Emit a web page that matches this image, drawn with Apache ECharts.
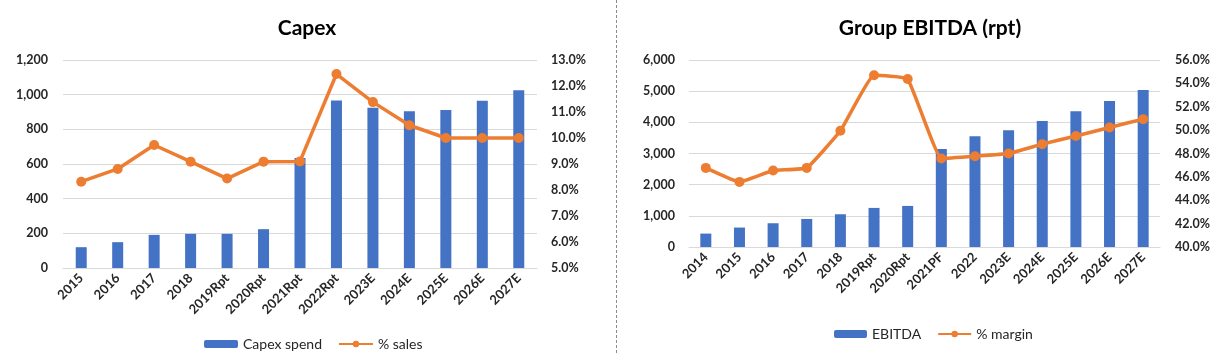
<!DOCTYPE html>
<html>
<head>
<meta charset="utf-8">
<script src="https://cdn.jsdelivr.net/npm/echarts@6/dist/echarts.min.js"></script>
<style>
  html, body { margin: 0; padding: 0; background: #fff; }
  #main { width: 1229px; height: 354px; }
</style>
</head>
<body>
<div id="main"></div>
<script>
const barColor = '#4472C4'
const lineColor = '#ED7D31'
const textColor = '#262626'
const gridColor = '#d9d9d9'
const font = 'Lato'

// Capex chart
const capexYears = ['2015', '2016', '2017', '2018', '2019Rpt', '2020Rpt', '2021Rpt', '2022Rpt', '2023E', '2024E', '2025E', '2026E', '2027E']
const capexSpend = [120, 149, 191, 197, 197, 224, 634, 967, 925, 904, 912, 965, 1025]
const capexSales = [8.32, 8.81, 9.73, 9.09, 8.44, 9.09, 9.1, 12.46, 11.38, 10.49, 10.0, 10.0, 10.0]

// EBITDA chart
const ebitdaYears = ['2014', '2015', '2016', '2017', '2018', '2019Rpt', '2020Rpt', '2021PF', '2022', '2023E', '2024E', '2025E', '2026E', '2027E']
const ebitdaValues = [430, 624, 762, 900, 1051, 1254, 1318, 3141, 3550, 3743, 4042, 4353, 4685, 5039]
const ebitdaMargin = [46.77, 45.57, 46.55, 46.77, 49.94, 54.69, 54.37, 47.58, 47.77, 48.0, 48.8, 49.5, 50.23, 50.94]

const fmtNum = v => v.toLocaleString('en-US')
const fmtPct = v => v.toFixed(1) + '%'

function catAxis (gridIndex, data) {
  return {
    type: 'category',
    gridIndex: gridIndex,
    data: data,
    axisTick: { show: false },
    axisLine: { show: true, lineStyle: { color: gridColor, width: 1 } },
    axisLabel: {
      rotate: 45,
      margin: 8,
      interval: 0,
      color: textColor,
      fontFamily: font,
      fontWeight: 'bold',
      fontSize: 13
    }
  }
}

function valAxis (gridIndex, min, max, interval, fmt, showSplit, margin) {
  return {
    type: 'value',
    gridIndex: gridIndex,
    min: min,
    max: max,
    interval: interval,
    axisLine: { show: false },
    axisTick: { show: false },
    splitLine: { show: showSplit, lineStyle: { color: gridColor, width: 1 } },
    axisLabel: {
      formatter: fmt,
      margin: margin,
      color: textColor,
      fontFamily: font,
      fontWeight: 'bold',
      fontSize: 12.5
    }
  }
}

const legendText = { color: textColor, fontFamily: font, fontSize: 14 }

const chart = echarts.init(document.getElementById('main'))
const option = {
  backgroundColor: '#fff',
  animation: false,
  title: [
    { text: 'Capex', left: 302, top: 13, textAlign: 'center',
      textStyle: { fontFamily: font, fontWeight: 'bold', fontSize: 21, color: '#000' } },
    { text: 'Group EBITDA (rpt)', left: 925, top: 13, textAlign: 'center',
      textStyle: { fontFamily: font, fontWeight: 'bold', fontSize: 21, color: '#000' } }
  ],
  legend: [
    {
      data: ['Capex spend', '% sales'],
      left: 199, top: 332,
      itemWidth: 34, itemHeight: 8, itemGap: 16,
      textStyle: legendText
    },
    {
      data: ['EBITDA', '% margin'],
      left: 829, top: 322,
      itemWidth: 33, itemHeight: 8, itemGap: 16,
      textStyle: legendText
    }
  ],
  grid: [
    { left: 63, right: 692, top: 60, height: 208 },
    { left: 689, right: 69, top: 60, height: 187 }
  ],
  xAxis: [
    catAxis(0, capexYears),
    catAxis(1, ebitdaYears)
  ],
  yAxis: [
    valAxis(0, 0, 1200, 200, fmtNum, true, 15),
    valAxis(0, 5, 13, 1, fmtPct, false, 14),
    valAxis(1, 0, 6000, 1000, fmtNum, true, 14),
    valAxis(1, 40, 56, 2, fmtPct, false, 15)
  ],
  series: [
    {
      name: 'Capex spend', type: 'bar', xAxisIndex: 0, yAxisIndex: 0,
      data: capexSpend, barWidth: 11,
      itemStyle: { color: barColor }
    },
    {
      name: '% sales', type: 'line', xAxisIndex: 0, yAxisIndex: 1,
      data: capexSales, symbol: 'circle', symbolSize: 10,
      lineStyle: { color: lineColor, width: 3.5 },
      itemStyle: { color: lineColor }
    },
    {
      name: 'EBITDA', type: 'bar', xAxisIndex: 1, yAxisIndex: 2,
      data: ebitdaValues, barWidth: 11,
      itemStyle: { color: barColor }
    },
    {
      name: '% margin', type: 'line', xAxisIndex: 1, yAxisIndex: 3,
      data: ebitdaMargin, symbol: 'circle', symbolSize: 10, smooth: 0.1,
      lineStyle: { color: lineColor, width: 3.5 },
      itemStyle: { color: lineColor }
    }
  ],
  graphic: [
    {
      type: 'line',
      shape: { x1: 616.5, y1: 0, x2: 616.5, y2: 354 },
      style: { stroke: '#8c8c8c', lineWidth: 1, lineDash: [3, 2] }
    }
  ]
}
chart.setOption(option)
</script>
</body>
</html>
